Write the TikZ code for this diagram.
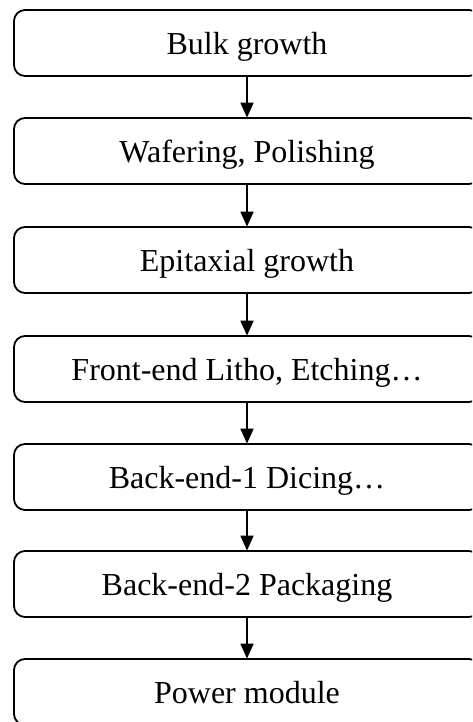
\documentclass[tikz,border=0pt]{standalone}
\usepackage{fontspec}
\setmainfont{Liberation Serif}
\usetikzlibrary{arrows.meta}
\begin{document}
\begin{tikzpicture}[x=1pt,y=-1pt,
  stepbox/.style={draw=black, line width=1.8pt, rounded corners=11pt, fill=white,
    minimum width=466pt, minimum height=66pt, inner sep=0pt,
    text height=23pt, text depth=0pt,
    font=\fontsize{32}{38}\selectfont},
  flow/.style={line width=1.8pt, -{Triangle[length=15pt,width=13pt]}, shorten >=-0.5pt}]
\clip (0,0) rectangle (472,722);
\fill[white] (0,0) rectangle (472,722);
\node[stepbox] (b1) at (247,43) {Bulk growth};
\node[stepbox] (b2) at (247,151) {Wafering, Polishing};
\node[stepbox] (b3) at (247,260) {Epitaxial growth};
\node[stepbox] (b4) at (247,369) {Front-end Litho, Etching…};
\node[stepbox] (b5) at (247,477) {Back-end-1 Dicing…};
\node[stepbox] (b6) at (247,584) {Back-end-2 Packaging};
\node[stepbox] (b7) at (247,692) {Power module};
\foreach \a/\b in {b1/b2,b2/b3,b3/b4,b4/b5,b5/b6,b6/b7}
  \draw[flow] (\a.south) -- (\b.north);
\end{tikzpicture}
\end{document}
